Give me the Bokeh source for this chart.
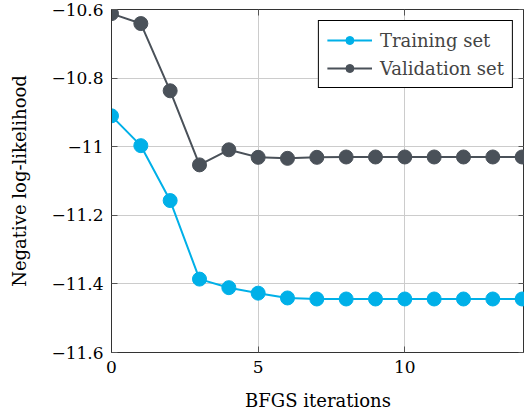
from bokeh.plotting import figure
from bokeh.models import LinearAxis, FixedTicker, CustomJSTickFormatter, Legend, LegendItem, Range1d
from bokeh.embed import file_html
from bokeh.resources import INLINE

iterations = list(range(15))
training = [-10.910, -10.997, -11.157, -11.386, -11.411, -11.427, -11.441,
            -11.444, -11.444, -11.444, -11.444, -11.444, -11.444, -11.444, -11.444]
validation = [-10.612, -10.641, -10.837, -11.053, -11.009, -11.031, -11.034,
              -11.031, -11.030, -11.030, -11.030, -11.030, -11.030, -11.030, -11.030]
x_ticks = [0, 5, 10]
y_ticks = [-11.6, -11.4, -11.2, -11.0, -10.8, -10.6]

FONT = "DejaVu Serif"
CYAN = "#00b0e8"
DARK = "#4a5159"

p = figure(width=524, height=414, output_backend="svg", toolbar_location=None,
           x_range=Range1d(0, 14.08), y_range=Range1d(-11.6, -10.6),
           x_axis_label="BFGS iterations", y_axis_label="Negative log-likelihood",
           min_border_left=111, min_border_right=0, min_border_top=9, min_border_bottom=62)
p.outline_line_color = "#333333"
p.outline_line_width = 1

fmt = CustomJSTickFormatter(code="""
const v = Math.round(Math.abs(tick)*10)/10;
return (tick < 0 ? '\\u2212' : '') + v.toString();
""")

for ax in [p.xaxis[0], p.yaxis[0]]:
    ax.major_label_text_font = FONT
    ax.major_label_text_font_size = "17px"
    ax.major_label_text_color = "black"
    ax.axis_label_text_font = FONT
    ax.axis_label_text_font_size = "18px"
    ax.axis_label_text_font_style = "normal"
    ax.axis_label_text_color = "black"
    ax.axis_line_color = "#333333"
    ax.major_tick_line_color = "#555555"
    ax.major_tick_in = 6
    ax.major_tick_out = 0
    ax.minor_tick_line_color = None
    ax.formatter = fmt

p.xaxis[0].ticker = FixedTicker(ticks=x_ticks)
p.yaxis[0].ticker = FixedTicker(ticks=y_ticks)
p.xaxis[0].major_label_standoff = 8
p.xaxis[0].axis_label_standoff = 14
p.yaxis[0].major_label_standoff = 8
p.yaxis[0].axis_label_standoff = 18

p.xgrid.ticker = FixedTicker(ticks=x_ticks)
p.ygrid.ticker = FixedTicker(ticks=y_ticks)
p.grid.grid_line_color = "#cccccc"
p.grid.grid_line_width = 1

for ticks, loc in [(x_ticks, "above"), (y_ticks, "right")]:
    ax = LinearAxis(ticker=FixedTicker(ticks=ticks), major_label_text_font_size="0px",
                    major_label_standoff=0, major_tick_in=6, major_tick_out=0,
                    minor_tick_line_color=None, axis_line_color="#333333",
                    major_tick_line_color="#555555")
    p.add_layout(ax, loc)

p.line(iterations, training, line_color=CYAN, line_width=2)
p.scatter(iterations, training, size=14, fill_color=CYAN, line_color=CYAN)
p.line(iterations, validation, line_color=DARK, line_width=2)
p.scatter(iterations, validation, size=14, fill_color=DARK, line_color=DARK)

# hidden renderers used only to draw the legend swatches with smaller markers
l1 = p.line(iterations, training, line_color=CYAN, line_width=2, visible=False)
m1 = p.scatter(iterations, training, size=10, fill_color=CYAN, line_color=CYAN, visible=False)
l2 = p.line(iterations, validation, line_color=DARK, line_width=2, visible=False)
m2 = p.scatter(iterations, validation, size=10, fill_color=DARK, line_color=DARK, visible=False)

legend = Legend(items=[LegendItem(label="Training set", renderers=[l1, m1]),
                       LegendItem(label="Validation set", renderers=[l2, m2])],
                location="top_right", label_text_font=FONT, label_text_font_size="18px",
                border_line_color="black", border_line_width=1, border_line_alpha=1,
                background_fill_alpha=1, margin=11, padding=8, spacing=6,
                glyph_width=45, label_standoff=8, label_height=22,
                inactive_fill_alpha=0, click_policy="none")
p.add_layout(legend)

open("out.html", "w").write(file_html(p, INLINE))
